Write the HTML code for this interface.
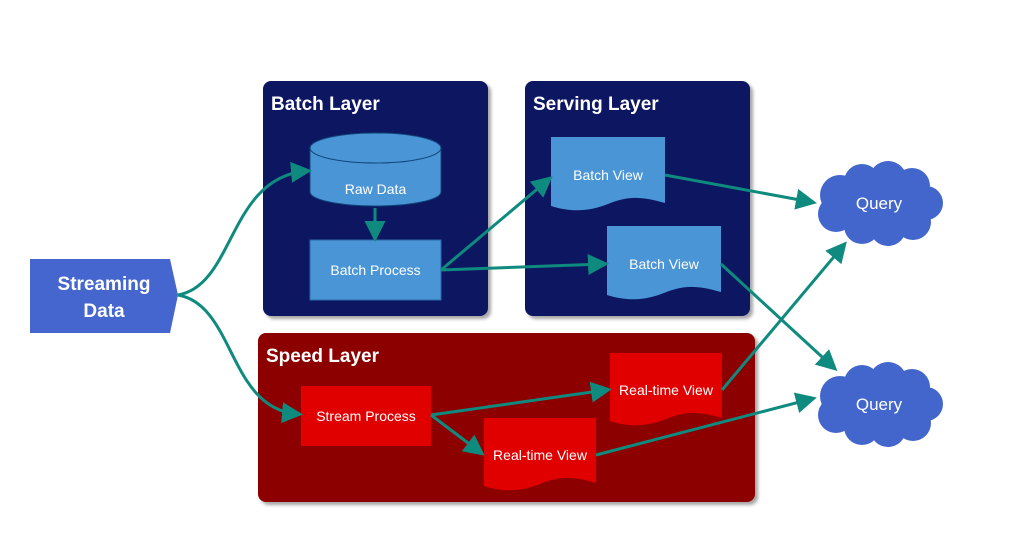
<!DOCTYPE html>
<html><head><meta charset="utf-8"><style>
html,body{margin:0;padding:0;background:#fff;}
svg{display:block;font-family:"Liberation Sans",sans-serif;}
</style></head><body>
<svg width="1024" height="535" viewBox="0 0 1024 535" xmlns="http://www.w3.org/2000/svg">
<defs>
<marker id="a" markerWidth="7" markerHeight="7" refX="5" refY="3.5" orient="auto" markerUnits="strokeWidth">
<path d="M0,0 L7,3.5 L0,7 z" fill="#0e8a7e"/></marker>
<filter id="sh" x="-5%" y="-5%" width="110%" height="110%"><feDropShadow dx="3" dy="3" stdDeviation="1.5" flood-color="#000" flood-opacity="0.35"/></filter>
</defs>
<rect x="263" y="81" width="225" height="235" rx="8" fill="#0b1560" filter="url(#sh)"/>
<rect x="525" y="81" width="225" height="235" rx="8" fill="#0b1560" filter="url(#sh)"/>
<rect x="258" y="333" width="497" height="169" rx="8" fill="#8c0000" filter="url(#sh)"/>
<g fill="#fff" font-weight="bold" font-size="19">
<text x="271" y="110">Batch Layer</text>
<text x="533" y="110">Serving Layer</text>
<text x="266" y="362">Speed Layer</text>
</g>
<path d="M30,259 H170 L178,295 L170,333 H30 Z" fill="#4566cf"/>
<g fill="#fff" font-weight="bold" font-size="19" text-anchor="middle">
<text x="104" y="290">Streaming</text><text x="104" y="317">Data</text></g>
<path d="M310,148 V192 A65.5,14 0 0 0 441,192 V148" fill="#4a95d6" stroke="#11467a" stroke-width="1"/>
<ellipse cx="375.5" cy="148" rx="65.5" ry="15" fill="#4a95d6" stroke="#11467a" stroke-width="1"/>
<rect x="310" y="240" width="131" height="60" fill="#4a95d6" stroke="#2b6aa8" stroke-width="1"/>
<path d="M551,137 H665 V203 C640,196 628,196 608,204 C588,212 570,212 551,206 Z" fill="#4a95d6"/>
<path d="M607,226 H721 V292 C696,285 684,285 664,293 C644,301 626,301 607,295 Z" fill="#4a95d6"/>
<rect x="301" y="386" width="130" height="60" fill="#e00000"/>
<path d="M610,353 H722 V418 C698,411 686,411 666,419 C646,427 628,427 610,421 Z" fill="#e00000"/>
<path d="M484,418 H596 V483 C572,476 560,476 540,484 C520,492 502,492 484,486 Z" fill="#e00000"/>
<g fill="#4366cc">
<g>
<circle cx="840" cy="195" r="20"/><circle cx="862" cy="182" r="18"/><circle cx="888" cy="180" r="19"/><circle cx="912" cy="186" r="18"/><circle cx="926" cy="203" r="17"/><circle cx="913" cy="222" r="18"/><circle cx="888" cy="228" r="18"/><circle cx="862" cy="226" r="18"/><circle cx="836" cy="214" r="18"/><ellipse cx="880" cy="205" rx="50" ry="28"/>
</g>
<g transform="translate(0,201)">
<circle cx="840" cy="195" r="20"/><circle cx="862" cy="182" r="18"/><circle cx="888" cy="180" r="19"/><circle cx="912" cy="186" r="18"/><circle cx="926" cy="203" r="17"/><circle cx="913" cy="222" r="18"/><circle cx="888" cy="228" r="18"/><circle cx="862" cy="226" r="18"/><circle cx="836" cy="214" r="18"/><ellipse cx="880" cy="205" rx="50" ry="28"/>
</g>
</g>
<g fill="#fff" font-size="14" text-anchor="middle">
<text x="375.5" y="194">Raw Data</text>
<text x="375.5" y="275">Batch Process</text>
<text x="608" y="180">Batch View</text>
<text x="664" y="269">Batch View</text>
<text x="366" y="421">Stream Process</text>
<text x="666" y="395">Real-time View</text>
<text x="540" y="460">Real-time View</text>
<text x="879" y="209" font-size="17">Query</text>
<text x="879" y="410" font-size="17">Query</text>
</g>
<g stroke="#0e8a7e" stroke-width="3" fill="none" marker-end="url(#a)">
<path d="M178,295 C235,285 228,178 306,171"/>
<path d="M178,295 C235,305 228,408 297,414"/>
<path d="M375,208 V236"/>
<path d="M441,270 L548,180"/>
<path d="M441,270 L603,264"/>
<path d="M665,175 L811,202"/>
<path d="M721,264 L833,367"/>
<path d="M722,390 L843,246"/>
<path d="M431,415 L606,390"/>
<path d="M431,415 L480,452"/>
<path d="M596,455 L811,399"/>
</g>
</svg>
</body></html>
